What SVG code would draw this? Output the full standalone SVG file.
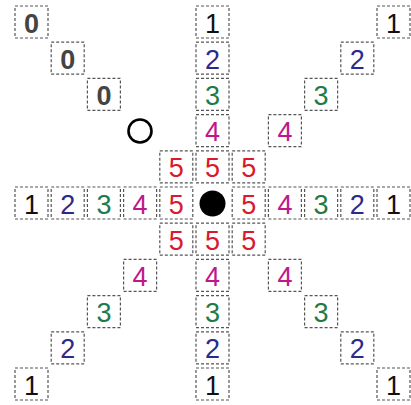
<svg xmlns="http://www.w3.org/2000/svg" width="411" height="405" viewBox="0 0 411 405">
<style>
.b{fill:#fff;stroke:#555;stroke-width:1.2;stroke-dasharray:3 2}
text{font-family:"Liberation Sans",Arial,sans-serif;font-size:27px;text-anchor:middle}
.n0{fill:#444;font-weight:bold}
.n1{fill:#111}
.n2{fill:#2a2a8c}
.n3{fill:#1f7a47}
.n4{fill:#c0168c}
.n5{fill:#d8192e}
</style>
<defs>
<rect id="box" class="b" x="0" y="0" width="33" height="32"/>
</defs>
<rect width="411" height="405" fill="#fff"/>
<g id="n-0-0" transform="translate(15,6)"><use href="#box"/><text class="n0" x="16.5" y="26.5">0</text></g>
<g id="n-1-1" transform="translate(51.2,42.2)"><use href="#box"/><text class="n0" x="16.5" y="26.5">0</text></g>
<g id="n-2-2" transform="translate(87.4,78.4)"><use href="#box"/><text class="n0" x="16.5" y="26.5">0</text></g>
<g id="open-circle"><circle cx="140" cy="131" r="11.5" fill="none" stroke="#000" stroke-width="2.6"/></g>

<g id="n-5-0" transform="translate(196,6)"><use href="#box"/><text class="n1" x="16.5" y="26.5">1</text></g>
<g id="n-5-1" transform="translate(196,42.2)"><use href="#box"/><text class="n2" x="16.5" y="26.5">2</text></g>
<g id="n-5-2" transform="translate(196,78.4)"><use href="#box"/><text class="n3" x="16.5" y="26.5">3</text></g>
<g id="n-5-3" transform="translate(196,114.6)"><use href="#box"/><text class="n4" x="16.5" y="26.5">4</text></g>

<g id="n-10-0" transform="translate(377,6)"><use href="#box"/><text class="n1" x="16.5" y="26.5">1</text></g>
<g id="n-9-1" transform="translate(340.8,42.2)"><use href="#box"/><text class="n2" x="16.5" y="26.5">2</text></g>
<g id="n-8-2" transform="translate(304.6,78.4)"><use href="#box"/><text class="n3" x="16.5" y="26.5">3</text></g>
<g id="n-7-3" transform="translate(268.4,114.6)"><use href="#box"/><text class="n4" x="16.5" y="26.5">4</text></g>

<g id="n-4-4" transform="translate(159.8,150.8)"><use href="#box"/><text class="n5" x="16.5" y="26.5">5</text></g>
<g id="n-5-4" transform="translate(196,150.8)"><use href="#box"/><text class="n5" x="16.5" y="26.5">5</text></g>
<g id="n-6-4" transform="translate(232.2,150.8)"><use href="#box"/><text class="n5" x="16.5" y="26.5">5</text></g>

<g id="n-0-5" transform="translate(15,187)"><use href="#box"/><text class="n1" x="16.5" y="26.5">1</text></g>
<g id="n-1-5" transform="translate(51.2,187)"><use href="#box"/><text class="n2" x="16.5" y="26.5">2</text></g>
<g id="n-2-5" transform="translate(87.4,187)"><use href="#box"/><text class="n3" x="16.5" y="26.5">3</text></g>
<g id="n-3-5" transform="translate(123.6,187)"><use href="#box"/><text class="n4" x="16.5" y="26.5">4</text></g>
<g id="n-4-5" transform="translate(159.8,187)"><use href="#box"/><text class="n5" x="16.5" y="26.5">5</text></g>
<g id="center-dot"><circle cx="212.5" cy="203.5" r="13" fill="#000"/></g>
<g id="n-6-5" transform="translate(232.2,187)"><use href="#box"/><text class="n5" x="16.5" y="26.5">5</text></g>
<g id="n-7-5" transform="translate(268.4,187)"><use href="#box"/><text class="n4" x="16.5" y="26.5">4</text></g>
<g id="n-8-5" transform="translate(304.6,187)"><use href="#box"/><text class="n3" x="16.5" y="26.5">3</text></g>
<g id="n-9-5" transform="translate(340.8,187)"><use href="#box"/><text class="n2" x="16.5" y="26.5">2</text></g>
<g id="n-10-5" transform="translate(377,187)"><use href="#box"/><text class="n1" x="16.5" y="26.5">1</text></g>

<g id="n-4-6" transform="translate(159.8,223.2)"><use href="#box"/><text class="n5" x="16.5" y="26.5">5</text></g>
<g id="n-5-6" transform="translate(196,223.2)"><use href="#box"/><text class="n5" x="16.5" y="26.5">5</text></g>
<g id="n-6-6" transform="translate(232.2,223.2)"><use href="#box"/><text class="n5" x="16.5" y="26.5">5</text></g>

<g id="n-3-7" transform="translate(123.6,259.4)"><use href="#box"/><text class="n4" x="16.5" y="26.5">4</text></g>
<g id="n-5-7" transform="translate(196,259.4)"><use href="#box"/><text class="n4" x="16.5" y="26.5">4</text></g>
<g id="n-7-7" transform="translate(268.4,259.4)"><use href="#box"/><text class="n4" x="16.5" y="26.5">4</text></g>

<g id="n-2-8" transform="translate(87.4,295.6)"><use href="#box"/><text class="n3" x="16.5" y="26.5">3</text></g>
<g id="n-5-8" transform="translate(196,295.6)"><use href="#box"/><text class="n3" x="16.5" y="26.5">3</text></g>
<g id="n-8-8" transform="translate(304.6,295.6)"><use href="#box"/><text class="n3" x="16.5" y="26.5">3</text></g>

<g id="n-1-9" transform="translate(51.2,331.8)"><use href="#box"/><text class="n2" x="16.5" y="26.5">2</text></g>
<g id="n-5-9" transform="translate(196,331.8)"><use href="#box"/><text class="n2" x="16.5" y="26.5">2</text></g>
<g id="n-9-9" transform="translate(340.8,331.8)"><use href="#box"/><text class="n2" x="16.5" y="26.5">2</text></g>

<g id="n-0-10" transform="translate(15,368)"><use href="#box"/><text class="n1" x="16.5" y="26.5">1</text></g>
<g id="n-5-10" transform="translate(196,368)"><use href="#box"/><text class="n1" x="16.5" y="26.5">1</text></g>
<g id="n-10-10" transform="translate(377,368)"><use href="#box"/><text class="n1" x="16.5" y="26.5">1</text></g>
<g id="connectors"></g>
</svg>
